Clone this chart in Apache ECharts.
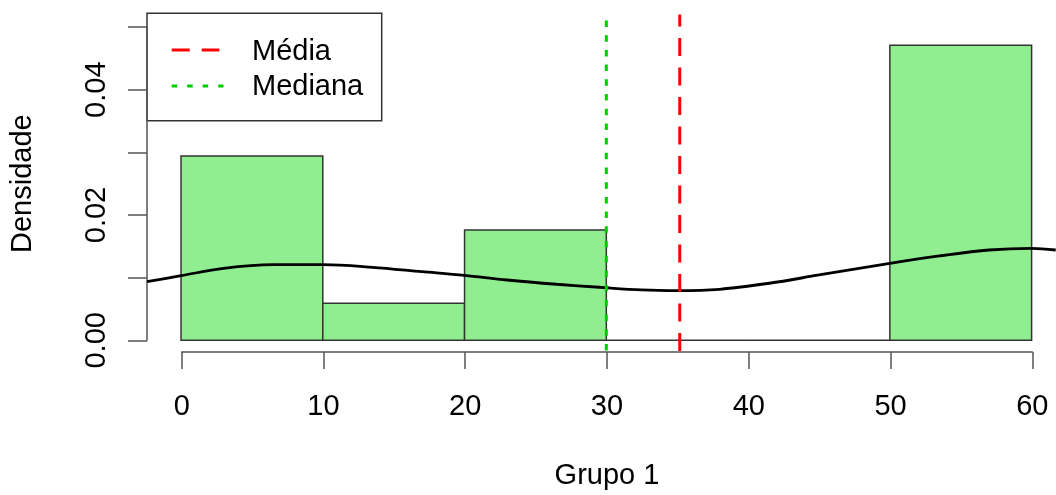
<!DOCTYPE html>
<html>
<head>
<meta charset="utf-8">
<script src="https://cdn.jsdelivr.net/npm/echarts@6/dist/echarts.min.js"></script>
<style>
  html, body { margin: 0; padding: 0; background: #ffffff; }
  #chart { width: 1056px; height: 495px; }
</style>
</head>
<body>
<div id="chart"></div>
<script>
// ---- data ----
const binStarts = [0, 10, 20, 30, 40, 50];
const binEnds = [10, 20, 30, 40, 50, 60];
const densities = [0.0294, 0.0059, 0.0176, 0, 0, 0.0471];

const kdeX = [-2.4, 0, 3, 6.5, 10, 13.5, 17, 20, 23, 26.5, 29.5, 32.5, 35, 38, 41.5, 45, 50, 53.5, 57, 60, 61.7];
const kdeY = [0.00935, 0.0103, 0.01149, 0.01207, 0.01207, 0.01165, 0.01095, 0.01035, 0.00962, 0.00894, 0.00846, 0.00803, 0.00792, 0.00814, 0.0091, 0.01042, 0.01229, 0.01346, 0.01441, 0.01468, 0.01441];

const meanValue = 35.18;
const medianValue = 30;

const xTickValues = [0, 10, 20, 30, 40, 50, 60];
const yTickLabels = ['0.00', '0.02', '0.04'];
const legendNames = ['Média', 'Mediana'];
const xTitle = 'Grupo 1';
const yTitle = 'Densidade';

// ---- chart ----
const FONT = "'Liberation Sans', Arial, Helvetica, sans-serif";
const FS = 29;
const AXIS_COLOR = '#555';

const histData = binStarts.map((s, i) => [s, binEnds[i], densities[i]]);
const kdeData = kdeX.map((x, i) => [x, kdeY[i]]);
const yMinPlot = -0.002, yMaxPlot = 0.052;
const xMinPlot = -2.4, xMaxPlot = 61.72;

const chart = echarts.init(document.getElementById('chart'), null, { renderer: 'canvas' });

const option = {
  backgroundColor: '#ffffff',
  animation: false,
  textStyle: { fontFamily: FONT },
  grid: [
    { left: 147, top: 14.5, width: 909, height: 338.3, containLabel: false },
    { left: 181.7, top: 14.5, width: 850.6, height: 338.5, containLabel: false },
    { left: 147, top: 27.0, width: 100, height: 313.3, containLabel: false }
  ],
  xAxis: [
    { gridIndex: 0, type: 'value', min: xMinPlot, max: xMaxPlot, show: false },
    {
      gridIndex: 1, type: 'value', min: xTickValues[0], max: xTickValues[xTickValues.length - 1], interval: 10,
      position: 'bottom',
      axisLine: { show: true, lineStyle: { color: AXIS_COLOR, width: 1.5 } },
      axisTick: { show: true, length: 17, inside: false, lineStyle: { color: AXIS_COLOR, width: 1.5 } },
      axisLabel: { show: true, color: '#000', fontSize: FS, fontFamily: FONT, margin: 40, showMinLabel: true, showMaxLabel: true },
      splitLine: { show: false },
      name: xTitle, nameLocation: 'middle', nameGap: 109,
      nameTextStyle: { color: '#000', fontSize: FS, fontFamily: FONT }
    },
    { gridIndex: 2, type: 'value', min: 0, max: 1, show: false }
  ],
  yAxis: [
    { gridIndex: 0, type: 'value', min: yMinPlot, max: yMaxPlot, show: false },
    { gridIndex: 1, type: 'value', min: 0, max: 1, show: false },
    {
      gridIndex: 2, type: 'value', min: 0, max: 0.05, interval: 0.01,
      position: 'left',
      axisLine: { show: true, lineStyle: { color: AXIS_COLOR, width: 1.5 } },
      axisTick: { show: true, length: 19, inside: false, lineStyle: { color: AXIS_COLOR, width: 1.5 } },
      axisLabel: {
        show: true, color: '#000', fontSize: FS, fontFamily: FONT, rotate: 90, margin: 36,
        showMinLabel: true, showMaxLabel: true,
        formatter: function (v) { const s = Number(v).toFixed(2); return yTickLabels.indexOf(s) >= 0 ? s : ''; }
      },
      splitLine: { show: false },
      name: yTitle, nameLocation: 'middle', nameGap: 110, nameRotate: 90,
      nameTextStyle: { color: '#000', fontSize: FS, fontFamily: FONT }
    }
  ],
  series: [
    {
      name: 'hist', type: 'custom', xAxisIndex: 0, yAxisIndex: 0, z: 1,
      data: histData,
      encode: { x: [0, 1], y: 2 },
      renderItem: function (params, api) {
        const p0 = api.coord([api.value(0), api.value(2)]);
        const p1 = api.coord([api.value(1), 0]);
        return {
          type: 'rect',
          shape: { x: p0[0], y: p0[1], width: p1[0] - p0[0], height: p1[1] - p0[1] },
          style: { fill: '#90EE90', stroke: '#333', lineWidth: 1.5 }
        };
      }
    },
    {
      name: 'density', type: 'line', xAxisIndex: 0, yAxisIndex: 0, z: 2,
      data: kdeData, smooth: 0.35, symbol: 'none',
      lineStyle: { color: '#000', width: 2.8 }
    },
    {
      name: legendNames[0], type: 'line', xAxisIndex: 0, yAxisIndex: 0, z: 3,
      data: [[meanValue, yMaxPlot], [meanValue, yMinPlot]], symbol: 'none',
      lineStyle: { color: '#ff0000', width: 3, type: [18, 11.5], dashOffset: 6 }
    },
    {
      name: legendNames[1], type: 'line', xAxisIndex: 0, yAxisIndex: 0, z: 4,
      data: [[medianValue, yMaxPlot], [medianValue, yMinPlot]], symbol: 'none',
      lineStyle: { color: '#00cd00', width: 3, type: [6.5, 8.2], dashOffset: 8.7 }
    }
  ],
  graphic: [
    {
      type: 'group', z: 100,
      children: [
        { type: 'rect', shape: { x: 147, y: 13.3, width: 234.7, height: 107.4 },
          style: { fill: 'transparent', stroke: '#333', lineWidth: 1.5 } },
        { type: 'line', shape: { x1: 171.7, y1: 50, x2: 219.3, y2: 50 },
          style: { stroke: '#ff0000', lineWidth: 3, lineDash: [18, 12] } },
        { type: 'line', shape: { x1: 171.7, y1: 86, x2: 223.5, y2: 86 },
          style: { stroke: '#00cd00', lineWidth: 3, lineDash: [5.5, 10] } },
        { type: 'text', x: 252, y: 51.6,
          style: { text: legendNames[0], fill: '#000', font: FS + 'px ' + FONT, verticalAlign: 'middle', align: 'left' } },
        { type: 'text', x: 252, y: 86.6,
          style: { text: legendNames[1], fill: '#000', font: FS + 'px ' + FONT, verticalAlign: 'middle', align: 'left' } }
      ]
    }
  ]
};

chart.setOption(option);
</script>
</body>
</html>
